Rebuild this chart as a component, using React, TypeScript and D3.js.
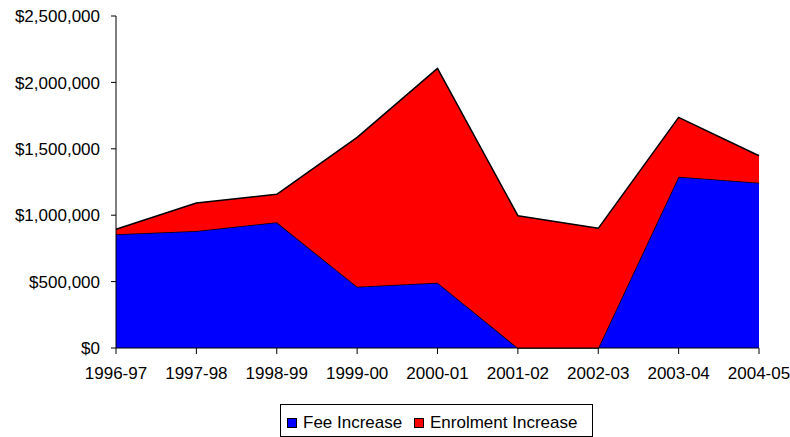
import React from "react";
import * as d3 from "d3";

const years = ["1996-97", "1997-98", "1998-99", "1999-00", "2000-01", "2001-02", "2002-03", "2003-04", "2004-05"];
const feeIncrease = [856000, 881000, 946000, 461000, 492000, 0, 0, 1290000, 1245000];
const enrolmentIncrease = [38000, 211000, 211000, 1125000, 1614000, 996000, 901000, 447000, 203000];
const yTicks = [0, 500000, 1000000, 1500000, 2000000, 2500000];
const seriesNames = ["Fee Increase", "Enrolment Increase"];
const seriesColors = ["#0000FF", "#FF0000"];

export default function App() {
  const W = 790, H = 437;
  const left = 116, right = 759, top = 16, bottom = 348;
  const x = d3.scalePoint<string>().domain(years).range([left, right]);
  const y = d3.scaleLinear().domain([0, 2500000]).range([bottom, top]);

  const rows = years.map((yr, i) => ({ yr, fee: feeIncrease[i], enr: enrolmentIncrease[i] }));
  const stack = d3.stack<any>().keys(["fee", "enr"])(rows);
  const area = d3.area<any>()
    .x((d) => x(d.data.yr)!)
    .y0((d) => y(d[0]))
    .y1((d) => y(d[1]));
  const topLine = d3.line<any>().x((d) => x(d.data.yr)!).y((d) => y(d[1]));
  const fmt = (v: number) => "$" + d3.format(",")(v);
  const font = "Liberation Sans, Arial, sans-serif";

  return (
    <svg width={W} height={H} style={{ position: "absolute", left: 0, top: 0 }} fontFamily={font}>
      <rect width={W} height={H} fill="#fff" />
      {stack.map((s, i) => (
        <g key={i}>
          <path d={area(s)!} fill={seriesColors[i]} />
          <path d={topLine(s)!} fill="none" stroke="#000" strokeWidth={1.5} strokeLinejoin="round" />
        </g>
      ))}
      {/* y axis */}
      <line x1={left} x2={left} y1={top} y2={bottom} stroke="#000" />
      {yTicks.map((t) => (
        <g key={t}>
          <line x1={left - 5} x2={left} y1={y(t)} y2={y(t)} stroke="#000" />
          <text x={left - 16} y={y(t)} dy="0.36em" textAnchor="end" fontSize={17} fill="#000">{fmt(t)}</text>
        </g>
      ))}
      {/* x axis */}
      <line x1={left} x2={right} y1={bottom} y2={bottom} stroke="#000" />
      {years.map((yr) => (
        <g key={yr}>
          <line x1={x(yr)} x2={x(yr)} y1={bottom} y2={bottom + 6} stroke="#000" />
          <text x={x(yr)} y={bottom + 31} textAnchor="middle" fontSize={17} fill="#000">{yr}</text>
        </g>
      ))}
      {/* legend */}
      <rect x={280.5} y={404.5} width={312} height={32} fill="#fff" stroke="#000" />
      {seriesNames.map((n, i) => {
        const lx = [287, 414][i];
        return (
          <g key={n}>
            <rect x={lx + 0.5} y={418.5} width={9} height={9} fill={seriesColors[i]} stroke="#000" />
            <text x={lx + 16} y={428} fontSize={17} fill="#000">{n}</text>
          </g>
        );
      })}
    </svg>
  );
}
